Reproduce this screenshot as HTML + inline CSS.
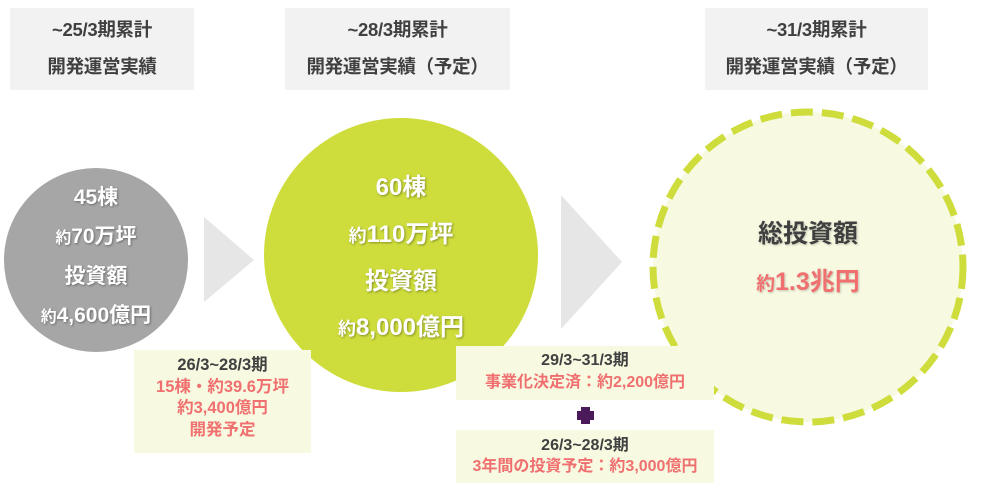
<!DOCTYPE html>
<html><head><meta charset="utf-8"><style>
body{margin:0;width:1000px;height:497px;background:#fff;position:relative;overflow:hidden;font-family:"Liberation Sans","Noto Sans CJK JP",sans-serif;}
.a{position:absolute;}
.hb{position:absolute;background:#f2f2f2;top:8px;height:82px;color:#404040;font-size:18.5px;font-weight:bold;text-align:center;line-height:37px;padding-top:3px;box-sizing:border-box;letter-spacing:-0.3px;}
.c{position:absolute;border-radius:50%;}
.t{position:absolute;left:0;width:100%;text-align:center;font-weight:bold;color:#fff;text-shadow:1px 1px 2px rgba(0,0,0,.35);line-height:1;}
.bx{position:absolute;background:#f7f9e1;text-align:center;font-weight:bold;color:#404040;}
.p{color:#f07070;}
.s{font-size:0.75em;}
</style></head><body>
<div class="hb" style="left:10px;width:184px">~25/3期累計<br>開発運営実績</div>
<div class="hb" style="left:285px;width:225px">~28/3期累計<br>開発運営実績（予定）</div>
<div class="hb" style="left:705px;width:223px">~31/3期累計<br>開発運営実績（予定）</div>

<div class="c" style="left:4px;top:168px;width:184px;height:184px;background:#a6a6a6">
<div class="t" style="top:19px;font-size:21px">45棟</div>
<div class="t" style="top:58px;font-size:21px"><span class="s">約</span>70万坪</div>
<div class="t" style="top:98px;font-size:21px">投資額</div>
<div class="t" style="top:137px;font-size:21px"><span class="s">約</span>4,600億円</div>
</div>

<svg class="a" style="left:0;top:0" width="1000" height="497">
<polygon points="204,217 254,260 204,302" fill="#e6e6e6"/>
<polygon points="561,195 622,262 561,329" fill="#e6e6e6"/>
<circle cx="808" cy="267" r="155" fill="#f7f9e1" stroke="#cedd3c" stroke-width="7" stroke-dasharray="22,9"/>
<rect x="581" y="407" width="9" height="17" fill="#4b1a5a"/>
<rect x="577" y="411" width="17" height="9" fill="#4b1a5a"/>
</svg>

<div class="c" style="left:264px;top:118px;width:274px;height:274px;background:#cedd3c">
<div class="t" style="top:58px;font-size:24px">60棟</div>
<div class="t" style="top:105px;font-size:24px"><span class="s">約</span>110万坪</div>
<div class="t" style="top:152px;font-size:24px">投資額</div>
<div class="t" style="top:198px;font-size:24px"><span class="s">約</span>8,000億円</div>
</div>

<div class="a" style="left:650px;top:222px;width:316px;text-align:center;font-weight:bold;font-size:25px;line-height:1;color:#404040;text-shadow:1px 1px 2px rgba(0,0,0,.2)">総投資額</div>
<div class="a" style="left:650px;top:270px;width:316px;text-align:center;font-weight:bold;font-size:25px;line-height:1;color:#f07070;text-shadow:1px 1px 2px rgba(0,0,0,.2)"><span class="s">約</span>1.3兆円</div>

<div class="bx" style="left:134px;top:350px;width:177px;height:103px;font-size:16.5px;line-height:21.5px;padding-top:5px;box-sizing:border-box">26/3~28/3期<br><span class="p">15棟・約39.6万坪<br>約3,400億円<br>開発予定</span></div>
<div class="bx" style="left:456px;top:346px;width:258px;height:54px;font-size:16px;line-height:22px;padding-top:4px;box-sizing:border-box;white-space:nowrap">29/3~31/3期<br><span class="p">事業化決定済：約2,200億円</span></div>
<div class="bx" style="left:456px;top:430px;width:258px;height:53px;font-size:16px;line-height:21px;padding-top:5px;box-sizing:border-box;white-space:nowrap">26/3~28/3期<br><span class="p">3年間の投資予定：約3,000億円</span></div>
</body></html>
